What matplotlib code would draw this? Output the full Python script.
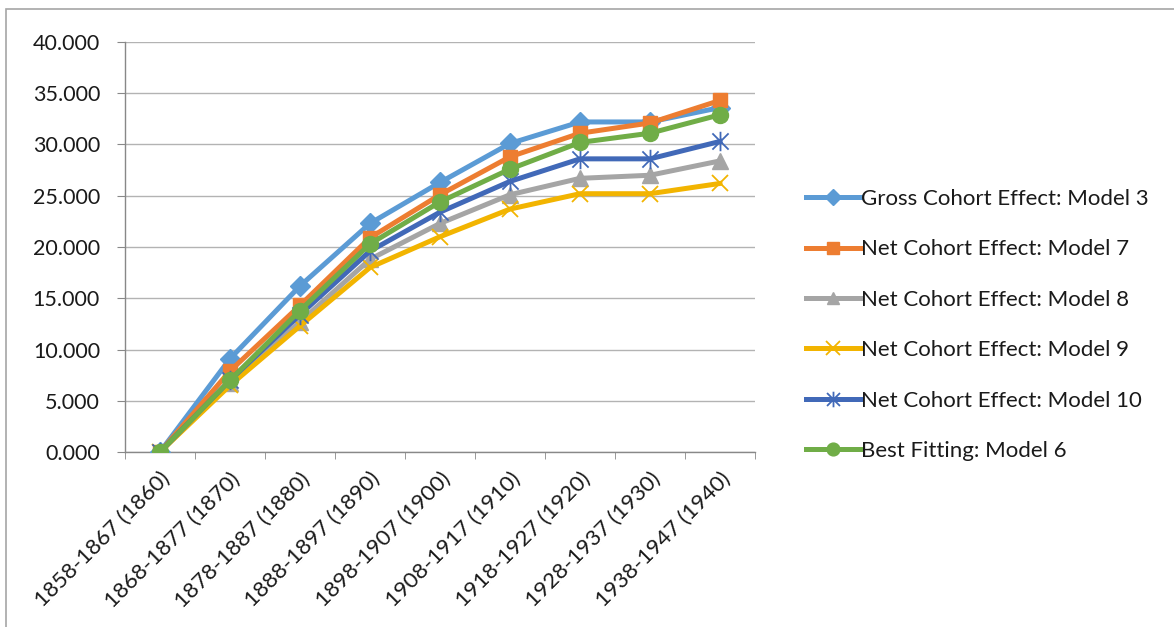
import numpy as np
import matplotlib
matplotlib.use("Agg")
import matplotlib.pyplot as plt
from matplotlib.path import Path
from matplotlib.patches import Rectangle

plt.rcParams["font.family"] = ["Lato", "DejaVu Sans"]

cohorts = ["1858-1867 (1860)", "1868-1877 (1870)", "1878-1887 (1880)",
           "1888-1897 (1890)", "1898-1907 (1900)", "1908-1917 (1910)",
           "1918-1927 (1920)", "1928-1937 (1930)", "1938-1947 (1940)"]

gross_m3 = [0.0, 9.1, 16.2, 22.3, 26.3, 30.1, 32.2, 32.2, 33.6]
net_m7 = [0.0, 7.9, 14.3, 20.9, 25.1, 28.8, 31.1, 32.1, 34.3]
net_m8 = [0.0, 6.7, 12.7, 18.8, 22.3, 25.1, 26.7, 27.0, 28.4]
net_m9 = [0.0, 6.5, 12.3, 18.0, 21.0, 23.7, 25.2, 25.2, 26.2]
net_m10 = [0.0, 7.0, 13.4, 19.6, 23.4, 26.4, 28.6, 28.6, 30.3]
best_m6 = [0.0, 7.0, 13.8, 20.3, 24.4, 27.6, 30.2, 31.1, 32.9]

# asterisk marker: x plus a vertical bar
star = Path([(-0.5, -0.5), (0.5, 0.5), (-0.5, 0.5), (0.5, -0.5), (0, -0.6), (0, 0.6)],
            [Path.MOVETO, Path.LINETO, Path.MOVETO, Path.LINETO, Path.MOVETO, Path.LINETO])

series = [
    ("Gross Cohort Effect: Model 3", gross_m3, "#5B9BD5", "D", 10, True),
    ("Net Cohort Effect: Model 7", net_m7, "#ED7D31", "s", 10.5, True),
    ("Net Cohort Effect: Model 8", net_m8, "#A5A5A5", "^", 11, True),
    ("Net Cohort Effect: Model 9", net_m9, "#F2B400", "x", 12, False),
    ("Net Cohort Effect: Model 10", net_m10, "#4169B8", star, 14, False),
    ("Best Fitting: Model 6", best_m6, "#70AD47", "o", 11.5, True),
]

fig = plt.figure(figsize=(11.74, 6.27), dpi=100)
fig.patches.append(Rectangle((6 / 1174, -0.1), 1.2, (627 - 9) / 627 + 0.1,
                             transform=fig.transFigure, fill=False,
                             edgecolor="#A6A6A6", linewidth=1.2))

ax = fig.add_axes([125 / 1174, (627 - 452) / 627, 630 / 1174, 410 / 627])
x = np.arange(len(cohorts))

for label, vals, color, marker, ms, filled in series:
    if filled:
        ax.plot(x, vals, color=color, linewidth=3.6, marker=marker, markersize=ms,
                markerfacecolor=color, markeredgecolor=color, label=label,
                solid_joinstyle="round", zorder=3)
    else:
        ax.plot(x, vals, color=color, linewidth=3.6, marker=marker, markersize=ms,
                markeredgecolor=color, markeredgewidth=1.3, label=label,
                solid_joinstyle="round", zorder=3)

ax.set_xlim(-0.5, len(cohorts) - 0.5)
ax.set_ylim(0, 40)
ax.set_yticks(np.arange(0, 40.1, 5))
ax.set_yticklabels([f"{v:.3f}" for v in np.arange(0, 40.1, 5)])
ax.set_xticks(x)
ax.set_xticklabels(cohorts, rotation=45, ha="right", va="top", rotation_mode="anchor")
ax.set_xticks(np.arange(-0.5, len(cohorts)), minor=True)
ax.tick_params(axis="x", which="major", length=0, pad=12, labelsize=16, labelcolor="#1a1a1a")
ax.tick_params(axis="x", which="minor", length=5, color="#888888", direction="out")
ax.tick_params(axis="y", length=6, color="#888888", pad=12, labelsize=15.5, labelcolor="#1a1a1a")

ax.grid(axis="y", color="#B3B3B3", linewidth=1.0)
ax.set_axisbelow(True)
for side in ["top", "right"]:
    ax.spines[side].set_visible(False)
for side in ["left", "bottom"]:
    ax.spines[side].set_color("#888888")
    ax.spines[side].set_linewidth(1.0)

ax.legend(loc="upper left", bbox_to_anchor=(797 / 1174, (627 - 180) / 627),
          bbox_transform=fig.transFigure, frameon=False, fontsize=16,
          handlelength=2.45, handletextpad=0.05, labelspacing=1.37,
          borderaxespad=0, labelcolor="#1a1a1a", markerscale=0.8)

fig.savefig("out.png", dpi=100)
